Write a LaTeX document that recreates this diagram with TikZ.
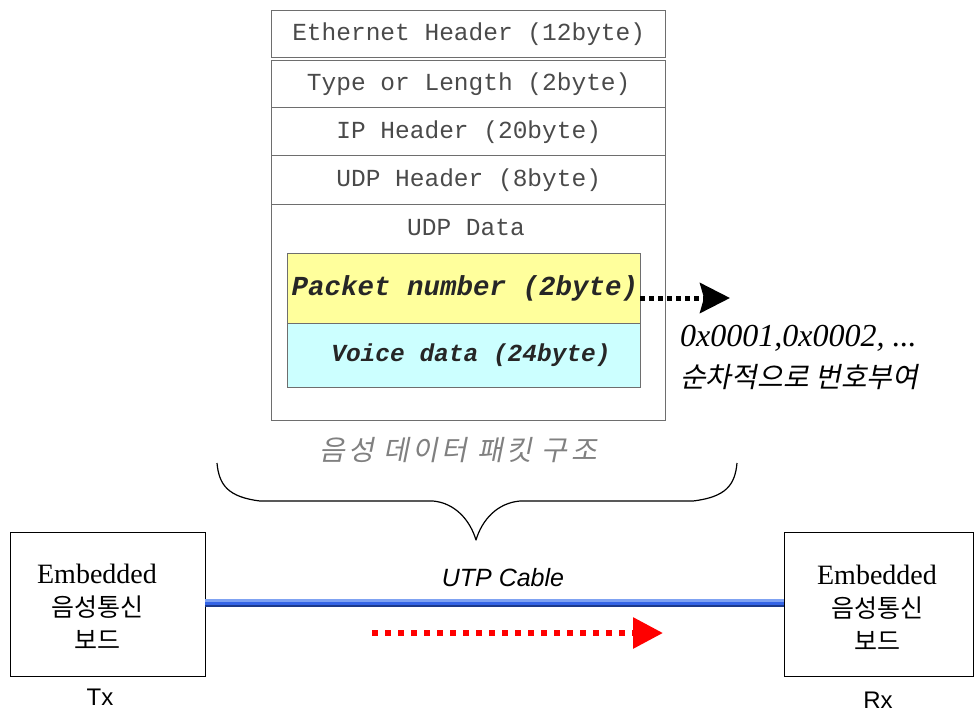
\documentclass[tikz,border=0pt]{standalone}
\usepackage{fontspec}
\setmainfont{Liberation Serif}
\newfontfamily\monofam{Liberation Mono}
\newfontfamily\sansfam{Liberation Sans}
\newfontfamily\kr{Noto Sans CJK KR}
\newfontfamily\krsl{Noto Sans CJK KR}[FakeSlant=0.2]
\newfontfamily\krcap{Noto Sans CJK KR}[FakeSlant=0.2,LetterSpace=12]
\usetikzlibrary{arrows.meta}
\definecolor{hdrgray}{HTML}{4A4A4A}
\definecolor{boxgray}{HTML}{6E6E6E}
\definecolor{pktyellow}{HTML}{FFFF9C}
\definecolor{voicecyan}{HTML}{CCFFFF}
\definecolor{cablelight}{HTML}{7FA2F2}
\definecolor{cablemid}{HTML}{3464E6}
\definecolor{cabledark}{HTML}{1C3A8C}
\definecolor{arrred}{HTML}{FF0000}
\tikzset{
  row/.style={draw=boxgray, line width=1.4pt, minimum width=394pt, anchor=north west, inner sep=0pt,
              font=\monofam\fontsize{24.5}{28}\selectfont, text=hdrgray},
  inbox/.style={draw=boxgray, line width=1.2pt, minimum width=353pt, anchor=north west, inner sep=0pt},
  board/.style={draw=black, line width=1.3pt, anchor=north west, inner sep=0pt},
  boardtext/.style={align=center, font=\fontsize{25}{33}\selectfont},
}
\begin{document}
\begin{tikzpicture}[x=1pt,y=-1pt]
\path[use as bounding box] (0,0) rectangle (975,713);

% packet structure
\node[row, minimum height=47pt] (eth) at (271,10) {Ethernet Header (12byte)};
\node[row, minimum height=47pt] (typ) at (271,60) {Type or Length (2byte)};
\node[row, minimum height=48pt] (ip) at (271,107) {IP Header (20byte)};
\node[row, minimum height=49pt] (udph) at (271,155) {UDP Header (8byte)};
\node[row, minimum height=216pt] (udpd) at (271,204) {};
\node[font=\monofam\fontsize{24.5}{28}\selectfont, text=hdrgray] (udpdt) at (466,227) {UDP Data};
\node[inbox, fill=pktyellow, minimum height=70pt] (pkt) at (287,253) {};
\node[font=\monofam\bfseries\itshape\fontsize{27.5}{30}\selectfont, text=black!85] (pktt) at (465,288) {Packet number (2byte)};
\node[inbox, fill=voicecyan, minimum height=64pt] (voice) at (287,323) {};
\node[font=\monofam\bfseries\itshape\fontsize{24.5}{28}\selectfont, text=black!85] (voicet) at (471,355) {Voice data (24byte)};

% packet number arrow and note
\coordinate (pkta) at (640,298);
\coordinate (pktb) at (730,298);
\draw[line width=5pt, dash pattern=on 5pt off 4pt, -{Stealth[length=30pt,width=30pt,inset=4pt]}] (pkta) -- (pktb);
\node[anchor=west, font=\itshape\fontsize{32}{34}\selectfont, inner sep=0pt] (hex) at (680,338) {0x0001,0x0002, ...};
\node[anchor=west, font=\krsl\fontsize{28}{30}\selectfont, inner sep=0pt] (seq) at (680,377) {순차적으로 번호부여};

% caption
\node[font=\krcap\fontsize{28}{30}\selectfont, text=gray] (cap) at (458,450) {음성 데이터 패킷 구조};

% brace
\coordinate (bl) at (217,463);
\coordinate (bt) at (476,540);
\coordinate (br) at (737,463);
\draw[line width=1.2pt, line join=round]
  (bl) .. controls (219,485) and (228,497) .. (260,501) -- (433,501)
  .. controls (455,503) and (470,520) .. (bt)
  .. controls (482,520) and (497,503) .. (520,501) -- (693,501)
  .. controls (726,497) and (735,485) .. (br);

% boards
\node[board, minimum width=195pt, minimum height=144pt] (tx) at (10,532) {};
\node[boardtext] (txt) at (97,607) {{\fontsize{28}{33}\selectfont Embedded}\\{\kr 음성통신}\\{\kr 보드}};
\node[font=\sansfam\fontsize{24}{28}\selectfont] (txl) at (100,697) {Tx};
\node[board, minimum width=189pt, minimum height=144pt] (rx) at (784,532) {};
\node[boardtext] (rxt) at (877,608) {{\fontsize{28}{33}\selectfont Embedded}\\{\kr 음성통신}\\{\kr 보드}};
\node[font=\sansfam\fontsize{24}{28}\selectfont] (rxl) at (878,700) {Rx};

% cable
\coordinate (ca) at (205,603);
\coordinate (cb) at (784,603);
\draw[cabledark, line width=8pt] (ca) -- (cb);
\draw[cablemid, line width=6pt] ([yshift=1pt]ca) -- ([yshift=1pt]cb);
\draw[cablelight, line width=2.5pt] ([yshift=2.75pt]ca) -- ([yshift=2.75pt]cb);
\node[font=\sansfam\itshape\fontsize{25}{28}\selectfont] (utp) at (503,578) {UTP Cable};

% red flow arrow
\coordinate (ra) at (372,633);
\coordinate (rb) at (663,633);
\draw[arrred, line width=6pt, dash pattern=on 6pt off 7pt, -{Triangle[length=30pt,width=30pt]}] (ra) -- (rb);
\end{tikzpicture}
\end{document}
